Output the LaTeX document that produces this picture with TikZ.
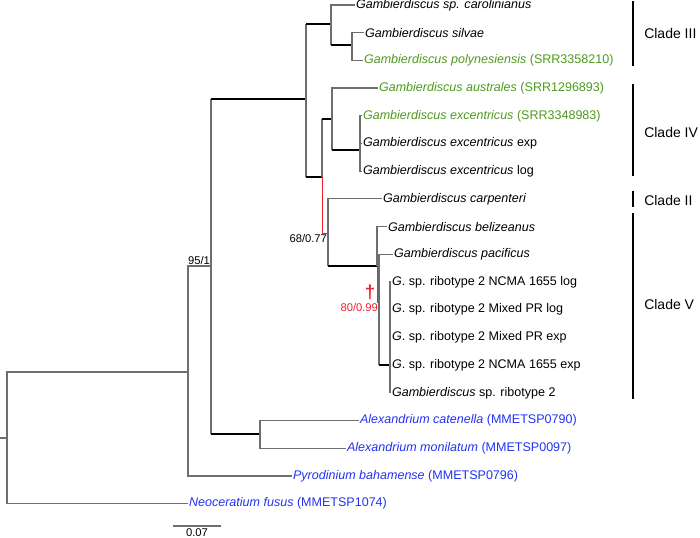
\documentclass[tikz,border=0pt]{standalone}
\usepackage{fontspec}
\setmainfont{Liberation Sans}
\usetikzlibrary{positioning,calc}
\definecolor{branchgray}{HTML}{6E6E6E}
\definecolor{inkred}{HTML}{F0202A}
\definecolor{leafgreen}{HTML}{4E9A1E}
\definecolor{leafblue}{HTML}{2232F0}
\tikzset{
  branch/.style={draw=branchgray,line width=0.9pt},
  boldbranch/.style={draw=black,line width=2.2pt},
  redbranch/.style={draw=inkred,line width=0.7pt},
  leaf/.style={anchor=west,inner sep=0.6pt,font=\fontsize{9.4}{11}\selectfont},
  greenleaf/.style={leaf,text=leafgreen},
  blueleaf/.style={leaf,text=leafblue},
  support/.style={inner sep=0.6pt,font=\fontsize{8.4}{10}\selectfont},
  cladebar/.style={draw=black,line width=1.5pt},
  cladelabel/.style={anchor=west,inner sep=0pt,font=\fontsize{10.5}{12}\selectfont}
}
\begin{document}
\begin{tikzpicture}[x=0.75pt,y=-0.75pt]
  \path[use as bounding box] (0,0) rectangle (700,538);
  % internal nodes of the tree
  \coordinate (base) at (0,438);
  \coordinate (root) at (7,438);
  \coordinate (core) at (188,372);
  \coordinate (split) at (211,266);
  \coordinate (gamb) at (306,99);
  \coordinate (cIII) at (331,24);
  \coordinate (silpol) at (352,45);
  \coordinate (rest) at (322,177);
  \coordinate (cIV) at (332,119);
  \coordinate (excen) at (360,150);
  \coordinate (cIIV) at (328,233);
  \coordinate (cV) at (377,266);
  \coordinate (pacgrp) at (379,302);
  \coordinate (ribo) at (390,365);
  \coordinate (alex) at (260,434);
  % tips
  \node[leaf] (carol) at (355,5) {\textit{Gambierdiscus sp. carolinianus}};
  \node[leaf] (silv) at (364,32.7) {\textit{Gambierdiscus silvae}};
  \node[greenleaf] (poly) at (363,60.4) {\textit{Gambierdiscus polynesiensis} (SRR3358210)};
  \node[greenleaf] (austr) at (378,88.1) {\textit{Gambierdiscus australes} (SRR1296893)};
  \node[greenleaf] (exsrr) at (362,115.8) {\textit{Gambierdiscus excentricus} (SRR3348983)};
  \node[leaf] (exexp) at (362,143.5) {\textit{Gambierdiscus excentricus} exp};
  \node[leaf] (exlog) at (362,171.2) {\textit{Gambierdiscus excentricus} log};
  \node[leaf] (carp) at (382,198.9) {\textit{Gambierdiscus carpenteri}};
  \node[leaf] (beliz) at (387,226.6) {\textit{Gambierdiscus belizeanus}};
  \node[leaf] (pacif) at (393,254.3) {\textit{Gambierdiscus pacificus}};
  \node[leaf] (ncmalog) at (391,282) {\textit{G}. sp. ribotype 2 NCMA 1655 log};
  \node[leaf] (mprlog) at (391,309.7) {\textit{G}. sp. ribotype 2 Mixed PR log};
  \node[leaf] (mprexp) at (391,337.4) {\textit{G}. sp. ribotype 2 Mixed PR exp};
  \node[leaf] (ncmaexp) at (391,365.1) {\textit{G}. sp. ribotype 2 NCMA 1655 exp};
  \node[leaf] (ribo2) at (391,392.8) {\textit{Gambierdiscus} sp. ribotype 2};
  \node[blueleaf] (caten) at (359,420.5) {\textit{Alexandrium catenella} (MMETSP0790)};
  \node[blueleaf] (monil) at (346,448.2) {\textit{Alexandrium monilatum} (MMETSP0097)};
  \node[blueleaf] (pyro) at (292,475.9) {\textit{Pyrodinium bahamense} (MMETSP0796)};
  \node[blueleaf] (neoc) at (188,503.6) {\textit{Neoceratium fusus} (MMETSP1074)};
  % branches
  \draw[branch] (base) -- (root);
  \draw[branch] (root) |- (core);
  \draw[branch] (root) |- (neoc.west);
  \draw[branch] (core) |- (split);
  \draw[branch] (core) |- (pyro.west);
  \draw[branch] (split) -- (split |- gamb);
  \draw[boldbranch] (split |- gamb) -- (gamb);
  \draw[branch] (split) -- (split |- alex);
  \draw[boldbranch] (split |- alex) -- (alex);
  \draw[branch] (alex) |- (caten.west);
  \draw[branch] (alex) |- (monil.west);
  \draw[branch] (gamb) -- (gamb |- cIII);
  \draw[boldbranch] (gamb |- cIII) -- (cIII);
  \draw[branch] (gamb) -- (gamb |- rest);
  \draw[boldbranch] (gamb |- rest) -- (rest);
  \draw[branch] (cIII) |- (carol.west);
  \draw[branch] (cIII) -- (cIII |- silpol);
  \draw[boldbranch] (cIII |- silpol) -- (silpol);
  \draw[branch] (silpol) |- (silv.west);
  \draw[branch] (silpol) |- (poly.west);
  \draw[branch] (rest) -- (rest |- cIV);
  \draw[boldbranch] (rest |- cIV) -- (cIV);
  \draw[redbranch] (rest) |- (cIIV);
  \draw[branch] (cIV) |- (austr.west);
  \draw[branch] (cIV) -- (cIV |- excen);
  \draw[boldbranch] (cIV |- excen) -- (excen);
  \foreach \t in {exsrr,exexp,exlog}
    \draw[branch] (excen) |- (\t.west);
  \draw[branch] (cIIV) |- (carp.west);
  \draw[branch] (cIIV) -- (cIIV |- cV);
  \draw[boldbranch] (cIIV |- cV) -- (cV);
  \draw[branch] (cV) |- (beliz.west);
  \draw[redbranch] (cV) |- (pacgrp);
  \draw[branch] (pacgrp) |- (pacif.west);
  \draw[branch] (pacgrp) -- (pacgrp |- ribo);
  \draw[boldbranch] (pacgrp |- ribo) -- (ribo);
  \foreach \t in {ncmalog,mprlog,mprexp,ncmaexp,ribo2}
    \draw[branch] (ribo) |- (\t.west);
  % support values
  \node[support,anchor=south east] (bs95) at (split) {95/1};
  \node[support,anchor=north east] (bs68) at (cIIV) {68/0.77};
  \node[support,anchor=north east,text=inkred] (bs80) at (pacgrp) {80/0.99};
  \node[text=inkred,inner sep=0pt,font=\fontsize{14}{15}\bfseries] (dag) at (370,292) {†};
  % clades
  \coordinate (c3top) at (633,1);    \coordinate (c3bot) at (633,66);
  \coordinate (c4top) at (633,84);   \coordinate (c4bot) at (633,176);
  \coordinate (c2top) at (633,191);  \coordinate (c2bot) at (633,207);
  \coordinate (c5top) at (633,213);  \coordinate (c5bot) at (633,399);
  \draw[cladebar] (c3top) -- (c3bot);
  \draw[cladebar] (c4top) -- (c4bot);
  \draw[cladebar] (c2top) -- (c2bot);
  \draw[cladebar] (c5top) -- (c5bot);
  \node[cladelabel] (lab3) at (644,33) {Clade III};
  \node[cladelabel] (lab4) at (644,132) {Clade IV};
  \node[cladelabel] (lab2) at (644,200) {Clade II};
  \node[cladelabel] (lab5) at (644,304) {Clade V};
  % scale bar
  \coordinate (sbl) at (173,526);
  \coordinate (sbr) at (221,526);
  \draw[branch] (sbl) -- (sbr);
  \node[support,anchor=north] (sblab) at ($(sbl)!0.5!(sbr)+(0,2)$) {0.07};
\end{tikzpicture}
\end{document}
